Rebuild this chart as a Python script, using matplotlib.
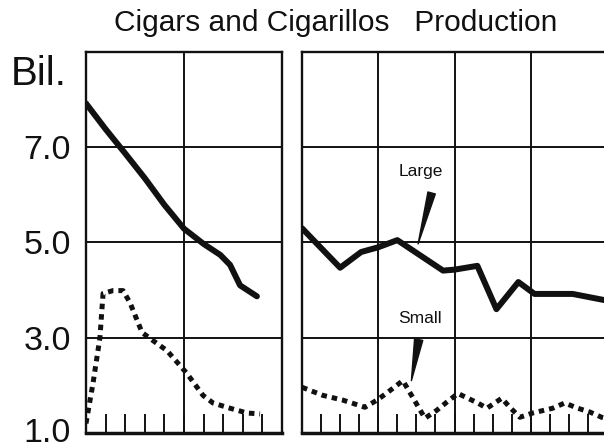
import matplotlib
matplotlib.use("Agg")
import matplotlib.pyplot as plt
from matplotlib.transforms import ScaledTranslation

plt.rcParams['font.family'] = ['Liberation Sans', 'DejaVu Sans']

# ---- data (x = position along the time axis in tick units) ----
left_large_x = [0, 1, 2, 3, 4, 5, 6, 6.85, 7.35, 7.86, 8.72]
left_large_y = [7.92, 7.38, 6.87, 6.35, 5.79, 5.29, 4.97, 4.74, 4.53, 4.1, 3.87]

left_small_x = [0, 0.36, 0.71, 0.87, 1.38, 1.89, 2.24, 2.86, 3.42, 4.13, 5.15, 5.97, 6.48, 7.35, 8.21, 8.88]
left_small_y = [1.2, 2.05, 3.0, 3.93, 3.99, 3.99, 3.74, 3.11, 2.94, 2.73, 2.25, 1.79, 1.63, 1.52, 1.42, 1.40]

right_large_x = [0, 2.0, 3.1, 4.0, 5.0, 7.4, 8.0, 9.2, 10.2, 11.35, 12.2, 14.2, 16]
right_large_y = [5.3, 4.47, 4.8, 4.9, 5.05, 4.41, 4.43, 4.51, 3.6, 4.17, 3.92, 3.92, 3.78]

right_small_x = [0, 1.1, 2.15, 3.3, 3.93, 4.45, 5.29, 6.45, 7.08, 7.6, 8.18, 9.22, 9.7,
                 10.48, 10.9, 11.43, 12.1, 13.15, 13.78, 14.47, 15.1, 15.72, 16]
right_small_y = [1.96, 1.79, 1.69, 1.54, 1.69, 1.84, 2.1, 1.31, 1.48, 1.65, 1.83, 1.63, 1.52,
                 1.73, 1.54, 1.33, 1.42, 1.52, 1.63, 1.52, 1.44, 1.33, 1.3]

y_ticks = [1, 3, 5, 7]
y_tick_labels = ["1.0", "3.0", "5.0", "7.0"]
title = "Cigars and Cigarillos   Production"
unit_label = "Bil."
label_large = "Large"
label_small = "Small"

# ---- figure ----
W, H = 604, 448
fig = plt.figure(figsize=(W / 100, H / 100), dpi=100)
fig.patch.set_facecolor('white')

def fx(px):
    return px / W

def fy(py):
    return 1 - py / H

top, bottom = 52, 433
axL = fig.add_axes([fx(86), fy(bottom), fx(282) - fx(86), fy(top) - fy(bottom)])
axR = fig.add_axes([fx(302), fy(bottom), fx(607) - fx(302), fy(top) - fy(bottom)])

ink = '#111111'

def style(ax, nx, major_x):
    ax.set_xlim(0, nx)
    ax.set_ylim(1, 9)
    ax.set_xticks(major_x)
    ax.set_xticks(range(1, nx), minor=True)
    ax.set_yticks(y_ticks)
    ax.grid(True, which='major', color=ink, linewidth=1.4)
    ax.set_axisbelow(True)
    ax.tick_params(axis='x', which='both', direction='in', length=14, width=1.4,
                   color=ink, labelbottom=False)
    ax.tick_params(axis='y', length=0)
    for s in ax.spines.values():
        s.set_color(ink)
        s.set_linewidth(1.7)
    ax.spines['bottom'].set_linewidth(2.5)

style(axL, 10, [5])
style(axR, 16, [4, 8, 12])
axR.spines['right'].set_visible(False)

axL.set_yticklabels(y_tick_labels, fontsize=24.5, color=ink)
axL.tick_params(axis='y', pad=11)
axR.set_yticklabels([])

# keep the lowest label inside the canvas
lab0 = axL.get_yticklabels()[0]
lab0.set_transform(lab0.get_transform() + ScaledTranslation(0, 3 / 100, fig.dpi_scale_trans))

large_kw = dict(color=ink, linewidth=4.3, solid_joinstyle='round', solid_capstyle='round')
small_kw = dict(color=ink, linewidth=3.6, linestyle=(0, (1.1, 1.0)))

axL.plot(left_large_x, left_large_y, **large_kw)
axL.plot(left_small_x, left_small_y, **small_kw)
axR.plot(right_large_x, right_large_y, **large_kw)
axR.plot(right_small_x, right_small_y, **small_kw)

# annotations with wedge pointers
axR.text(6.24, 6.5, label_large, fontsize=12.5, ha='center', va='center', color=ink)
axR.annotate("", xy=(6.09, 4.97), xytext=(6.8, 6.04),
             arrowprops=dict(arrowstyle="wedge,tail_width=0.55,shrink_factor=0.5",
                             fc=ink, ec=ink, shrinkA=0, shrinkB=0))
axR.text(6.2, 3.4, label_small, fontsize=12.5, ha='center', va='center', color=ink)
axR.annotate("", xy=(5.74, 2.1), xytext=(6.12, 2.96),
             arrowprops=dict(arrowstyle="wedge,tail_width=0.6,shrink_factor=0.5",
                             fc=ink, ec=ink, shrinkA=0, shrinkB=0))

fig.text(fx(336), fy(31), title, fontsize=21.5, ha='center', va='baseline', color=ink)
fig.text(fx(11), fy(85), unit_label, fontsize=29, ha='left', va='baseline', color=ink)

fig.savefig("out.png", dpi=100, facecolor='white')
